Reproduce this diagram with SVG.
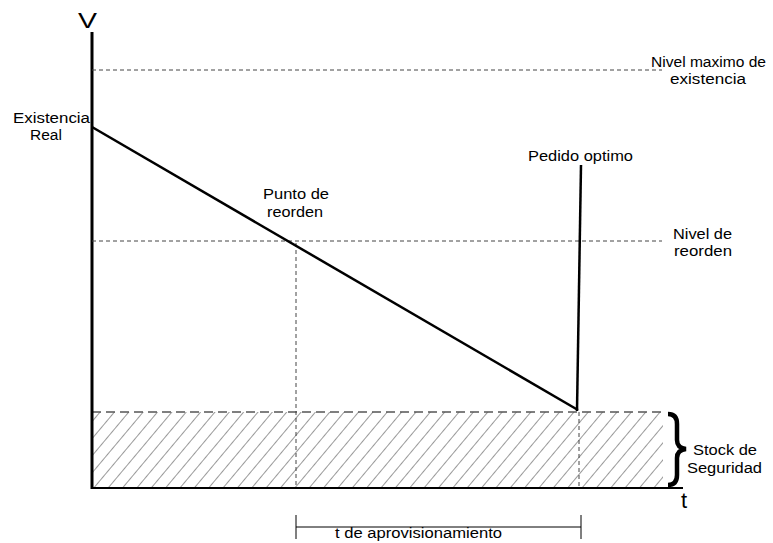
<svg xmlns="http://www.w3.org/2000/svg" width="773" height="543" viewBox="0 0 773 543">
  <style>
    text { font-family: "Liberation Sans", Arial, sans-serif; font-size: 15.5px; fill: #000; }
    .guide { stroke: #444; stroke-width: 1; stroke-dasharray: 4 3; fill: none; }
    .solid { stroke: #000; stroke-width: 2.5; fill: none; }
  </style>
  <defs>
    <pattern id="hatch" patternUnits="userSpaceOnUse" width="11" height="11" patternTransform="rotate(40)">
      <rect width="11" height="11" fill="#fff"/>
      <line x1="0" y1="0" x2="0" y2="11" stroke="#9a9a9a" stroke-width="2"/>
    </pattern>
  </defs>

  <rect width="773" height="543" fill="#fff"/>

  <!-- safety stock band -->
  <g id="stock">
    <rect x="92" y="412" width="571" height="76" fill="url(#hatch)"/>
    <line x1="92" y1="412" x2="663" y2="412" stroke="#555" stroke-width="1.5" stroke-dasharray="9 5"/>
    <path d="M668,414 Q677,414 677,424 L677,440 Q677,448 686,449 Q677,450 677,458 L677,475 Q677,485 668,485" stroke="#000" stroke-width="4.5" fill="none"/>
    <text x="693" y="455" textLength="64" lengthAdjust="spacingAndGlyphs">Stock de</text>
    <text x="687" y="473" textLength="75" lengthAdjust="spacingAndGlyphs">Seguridad</text>
  </g>

  <!-- axes -->
  <g id="axes">
    <line x1="92" y1="32" x2="92" y2="489" stroke="#000" stroke-width="3"/>
    <line x1="91" y1="488" x2="683" y2="488" stroke="#000" stroke-width="2"/>
    <text x="78" y="28" style="font-size:22px" textLength="19" lengthAdjust="spacingAndGlyphs">V</text>
    <text x="681" y="508" style="font-size:22px">t</text>
  </g>

  <g id="connectors">
    <!-- reference levels -->
    <line class="guide" x1="92" y1="70" x2="662" y2="70"/>
    <line class="guide" x1="92" y1="241" x2="662" y2="241"/>
    <line class="guide" x1="296" y1="243" x2="296" y2="488"/>
    <line class="guide" x1="579" y1="412" x2="579" y2="488"/>
    <!-- stock consumption and replenishment -->
    <line class="solid" x1="92" y1="127" x2="578" y2="410"/>
    <line class="solid" x1="577" y1="411" x2="581" y2="165"/>
    <!-- lead time span -->
    <g stroke="#000" stroke-width="1">
      <line x1="296" y1="527" x2="581" y2="527"/>
      <line x1="296" y1="515" x2="296" y2="539"/>
      <line x1="581" y1="515" x2="581" y2="539"/>
    </g>
  </g>

  <g id="labels">
    <text x="13" y="123" textLength="77" lengthAdjust="spacingAndGlyphs">Existencia</text>
    <text x="46" y="140" text-anchor="middle">Real</text>
    <text x="263" y="199" textLength="66" lengthAdjust="spacingAndGlyphs">Punto de</text>
    <text x="267" y="217" textLength="56" lengthAdjust="spacingAndGlyphs">reorden</text>
    <text x="528" y="161" textLength="105" lengthAdjust="spacingAndGlyphs">Pedido optimo</text>
    <text x="651" y="67" textLength="115" lengthAdjust="spacingAndGlyphs">Nivel maximo de</text>
    <text x="670" y="84" textLength="76" lengthAdjust="spacingAndGlyphs">existencia</text>
    <text x="673" y="239" textLength="59" lengthAdjust="spacingAndGlyphs">Nivel de</text>
    <text x="674" y="256" textLength="58" lengthAdjust="spacingAndGlyphs">reorden</text>
    <text x="335" y="538" textLength="167" lengthAdjust="spacingAndGlyphs">t de aprovisionamiento</text>
  </g>
</svg>
